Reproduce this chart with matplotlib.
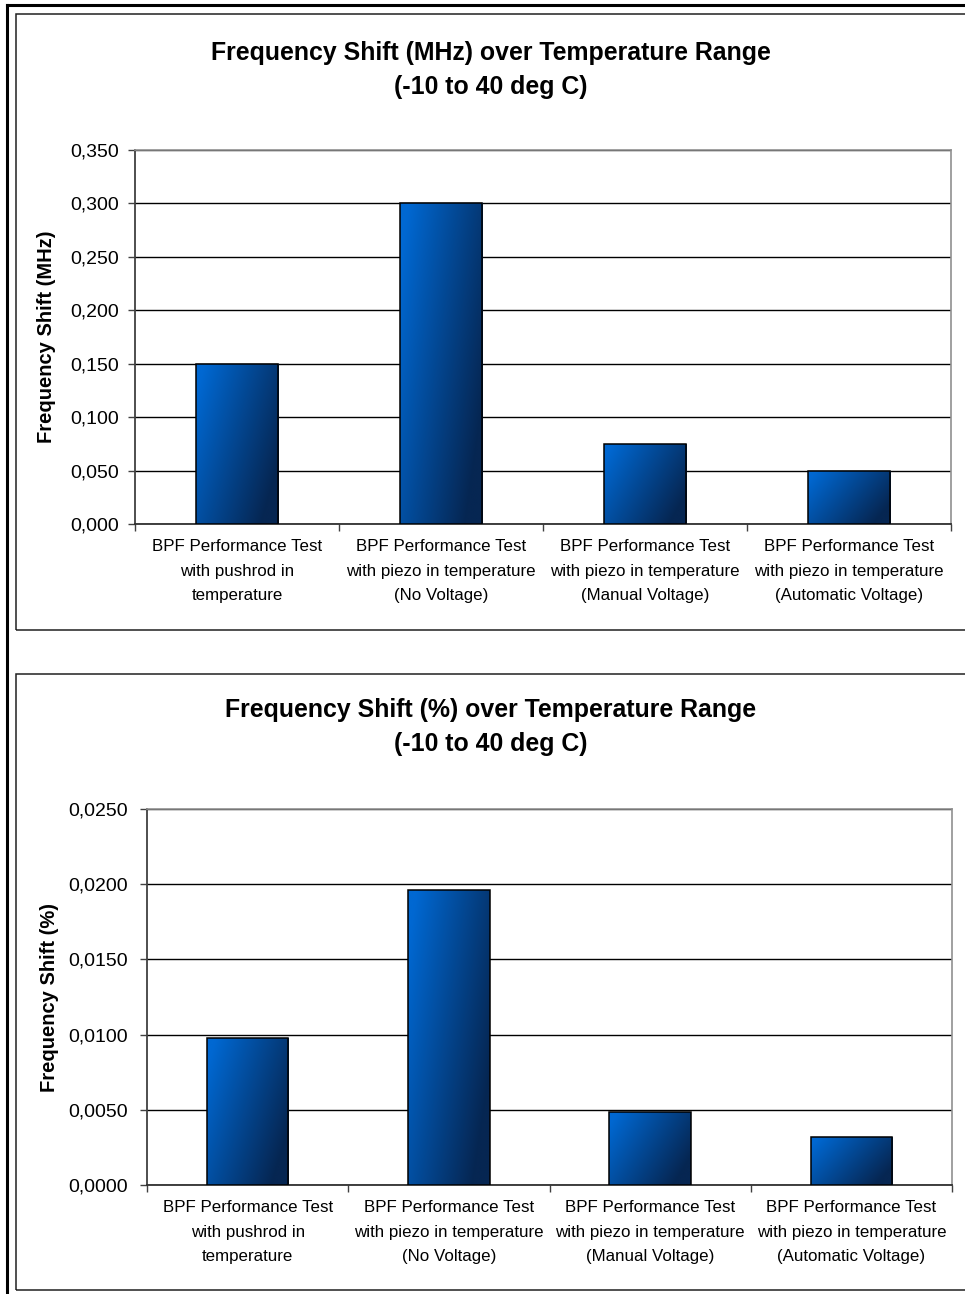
import matplotlib
matplotlib.use("Agg")
import matplotlib.pyplot as plt
import numpy as np
from matplotlib.patches import Rectangle
from matplotlib.lines import Line2D
from matplotlib.ticker import FuncFormatter

plt.rcParams["font.family"] = ["Liberation Sans", "DejaVu Sans"]

categories = [
    "BPF Performance Test\nwith pushrod in\ntemperature",
    "BPF Performance Test\nwith piezo in temperature\n(No Voltage)",
    "BPF Performance Test\nwith piezo in temperature\n(Manual Voltage)",
    "BPF Performance Test\nwith piezo in temperature\n(Automatic Voltage)",
]
shift_mhz = [0.150, 0.300, 0.075, 0.050]
shift_pct = [0.00976, 0.0196, 0.00488, 0.00321]

W, H = 965, 1294
fig = plt.figure(figsize=(W / 100, H / 100), dpi=100)


def fx(x):
    return x / W


def fy(y):
    return 1 - y / H


# outer sheet border and the two chart frames
fig.add_artist(Line2D([fx(7), fx(7)], [fy(5), fy(1300)], color="black", lw=2.2))
fig.add_artist(Line2D([fx(7), fx(975)], [fy(5), fy(5)], color="black", lw=2.2))
for top, bot in [(14, 630), (674, 1290)]:
    fig.add_artist(Rectangle((fx(16), fy(bot)), fx(980) - fx(16), fy(top) - fy(bot),
                             transform=fig.transFigure, fill=False, ec="#202020", lw=1.1))

light = np.array([0, 104, 210]) / 255
dark = np.array([6, 38, 82]) / 255


def gradient_bars(ax, bars):
    for b in bars:
        x0, y0 = b.get_x(), b.get_y()
        w, h = b.get_width(), b.get_height()
        u = np.linspace(0, 1, 120)[None, :]
        v = np.linspace(0, 1, 200)[:, None]
        t = np.clip(0.8 * u + 0.45 * v - 0.08, 0, 1)
        img = light[None, None, :] * (1 - t[..., None]) + dark[None, None, :] * t[..., None]
        im = ax.imshow(img, extent=(x0, x0 + w, y0, y0 + h), origin="upper",
                       aspect="auto", zorder=3, interpolation="bilinear")
        im.set_clip_path(b)


def draw_chart(rect, values, ymax, step, fmt, title, ylabel, title_y, ylab_x, pad):
    ax = fig.add_axes(rect)
    x = np.arange(len(values)) + 0.5
    bars = ax.bar(x, values, width=0.405, facecolor="none", edgecolor="black",
                  linewidth=1.1, zorder=4)
    gradient_bars(ax, bars)
    ax.set_xlim(0, len(values))
    ax.set_ylim(0, ymax)
    ax.set_yticks(np.arange(0, ymax + step / 2, step))
    ax.yaxis.set_major_formatter(FuncFormatter(lambda v, p: fmt.format(v).replace(".", ",")))
    ax.grid(axis="y", color="black", lw=1.0, zorder=1)
    ax.set_xticks(np.arange(len(values) + 1))
    ax.set_xticklabels([])
    ax.set_xticks(x, minor=True)
    ax.set_xticklabels(categories, minor=True, fontsize=12.2, linespacing=1.78)
    ax.tick_params(axis="x", which="minor", length=0, pad=11)
    ax.tick_params(axis="x", which="major", length=5, width=1, color="#404040")
    ax.tick_params(axis="y", length=5, width=1, color="#404040", labelsize=14, pad=pad)
    for s in ["top", "right"]:
        ax.spines[s].set_color("#909090")
        ax.spines[s].set_linewidth(1.2)
    ax.spines["left"].set_color("#404040")
    ax.spines["left"].set_linewidth(1.3)
    ax.spines["bottom"].set_color("#303030")
    ax.spines["bottom"].set_linewidth(1.3)
    ax.set_ylabel(ylabel, fontsize=14.5, fontweight="bold")
    ax.yaxis.set_label_coords(ylab_x, 0.5)
    fig.text(fx(491), fy(title_y), title, ha="center", va="center", fontsize=17.9,
             fontweight="bold", linespacing=1.55)
    return ax


draw_chart([fx(135), fy(524), fx(951) - fx(135), fy(150) - fy(524)], shift_mhz,
           0.35, 0.05, "{:.3f}",
           "Frequency Shift (MHz) over Temperature Range\n(-10 to 40 deg C)",
           "Frequency Shift (MHz)", 70, (56 - 135) / 816, 6.5)

draw_chart([fx(147), fy(1185), fx(952) - fx(147), fy(809) - fy(1185)], shift_pct,
           0.025, 0.005, "{:.4f}",
           "Frequency Shift (%) over Temperature Range\n(-10 to 40 deg C)",
           "Frequency Shift (%)", 727, (59 - 147) / 805, 9)

fig.savefig("out.png", dpi=100)
